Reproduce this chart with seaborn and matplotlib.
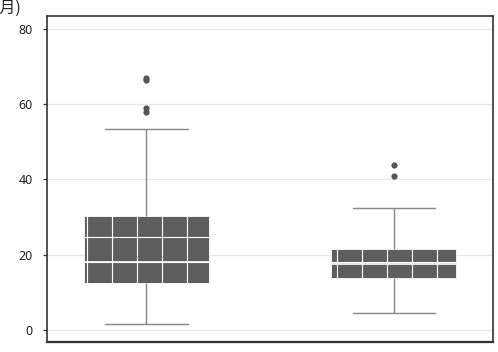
import numpy as np
import pandas as pd
import seaborn as sns
import matplotlib
matplotlib.use("Agg")
import matplotlib.pyplot as plt

# Data
categories = ["A", "B"]
group_a = [1.6, 5.0, 7.5, 9.5, 11.0, 12.0, 12.5, 13.5, 14.6, 15.5, 16.5, 17.4, 18.1,
           19.5, 21.0, 23.9, 26.0, 28.5, 30.3, 36.0, 53.4, 58.0, 59.0, 66.3, 67.0]
group_b = [4.6, 8.0, 10.0, 11.5, 12.5, 13.3, 13.9, 14.5, 15.2, 15.8, 16.5, 17.0, 17.5,
           18.0, 18.6, 19.2, 19.8, 20.6, 21.4, 23.0, 26.0, 29.0, 32.4, 41.0, 43.9]
y_ticks = [0, 20, 40, 60, 80]
y_label = "(月)"

df = pd.DataFrame({
    "group": [categories[0]] * len(group_a) + [categories[1]] * len(group_b),
    "value": group_a + group_b,
})

sns.set_theme(style="white")
plt.rcParams["font.family"] = ["Noto Sans", "DejaVu Sans"]
plt.rcParams["hatch.linewidth"] = 0.55

DPI = 150
fig = plt.figure(figsize=(498 / DPI, 352 / DPI), dpi=DPI)
ax = fig.add_axes([46.7 / 498, 1 - 341.7 / 352, (493 - 46.7) / 498, (341.7 - 15.7) / 352])

sns.boxplot(
    data=df, x="group", y="value", order=categories, ax=ax,
    width=0.505, color="#5e5e5e", linecolor="#8a8a8a", linewidth=0.7,
    capwidths=0.335,
    medianprops=dict(color="white", linewidth=0.8),
    flierprops=dict(marker="o", markersize=3.0, markerfacecolor="#555555",
                    markeredgecolor="#555555", markeredgewidth=0),
    saturation=1,
)

for p in ax.patches:
    p.set_facecolor("#5e5e5e")
    p.set_edgecolor("white")
    p.set_hatch("+")
    p.set_linewidth(0.4)

ax.set_xlim(-0.403, 1.40)
ax.set_ylim(-3.1, 83.5)
ax.set_yticks(y_ticks)
ax.set_yticklabels([str(t) for t in y_ticks])
ax.set_xticks([])
ax.set_xlabel("")
ax.set_ylabel("")
ax.yaxis.grid(True, color="#e8e8e8", linewidth=0.6)
ax.set_axisbelow(True)

for side in ["left", "right", "top", "bottom"]:
    ax.spines[side].set_visible(True)
    ax.spines[side].set_color("#333333")
    ax.spines[side].set_linewidth(0.8)
ax.spines["bottom"].set_linewidth(1.1)

ax.tick_params(axis="y", left=True, length=2.0, width=0.6, color="#333333",
               pad=4.8, labelsize=6.0, labelcolor="#222222")

fig.text(21 / 498, 1 - 8 / 352, y_label, ha="right", va="center",
         fontsize=7.6, color="#222222",
         family=["Noto Sans CJK SC", "DejaVu Sans"])

fig.savefig("out.png", dpi=DPI)
